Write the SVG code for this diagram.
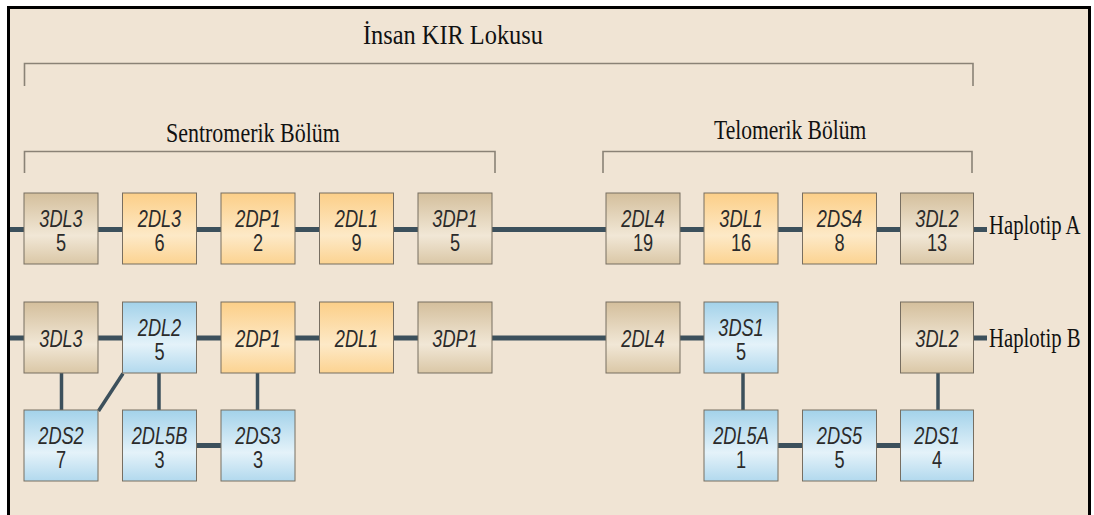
<svg xmlns="http://www.w3.org/2000/svg" width="1094" height="515" viewBox="0 0 1094 515">
  <defs>
    <linearGradient id="gTan" x1="0" y1="0" x2="0" y2="1">
      <stop offset="0" stop-color="#d4bf9c"/>
      <stop offset="0.6" stop-color="#f1e7d6"/>
      <stop offset="1" stop-color="#dac7a6"/>
    </linearGradient>
    <linearGradient id="gOrange" x1="0" y1="0" x2="0" y2="1">
      <stop offset="0" stop-color="#fccf88"/>
      <stop offset="0.6" stop-color="#fde9c7"/>
      <stop offset="1" stop-color="#fcd391"/>
    </linearGradient>
    <linearGradient id="gBlue" x1="0" y1="0" x2="0" y2="1">
      <stop offset="0" stop-color="#a3d2ea"/>
      <stop offset="0.6" stop-color="#e4f2f9"/>
      <stop offset="1" stop-color="#b2d9ee"/>
    </linearGradient>
    <style>
      .box { stroke: #776e61; stroke-width: 1; }
      .tan { fill: url(#gTan); }
      .orange { fill: url(#gOrange); }
      .blue { fill: url(#gBlue); }
      .lbl { font-family: "Liberation Sans", Arial, sans-serif; font-style: italic; font-size: 23px; fill: #2b2b2b; text-anchor: middle; }
      .num { font-family: "Liberation Sans", Arial, sans-serif; font-size: 23px; fill: #2b2b2b; text-anchor: middle; }
      .serif { font-family: "Liberation Serif", "Times New Roman", serif; font-size: 28px; fill: #111; }
      .bracket { fill: none; stroke: #8a8276; stroke-width: 1.6; }
      .row { stroke: #3c505c; stroke-width: 5; fill: none; }
      .link { stroke: #3c505c; stroke-width: 3.5; fill: none; }
    </style>
  </defs>

  <!-- page background and frame -->
  <rect x="0" y="0" width="1094" height="515" fill="#ffffff"/>
  <rect x="8.5" y="7.5" width="1081" height="510" fill="#f0e4d4"/>
  <path d="M8.5,515 V7.5 H1089.5 V515" fill="none" stroke="#000" stroke-width="3"/>

  <!-- headings and brackets (serif text is set narrow) -->
  <g id="headings">
    <text class="serif" transform="translate(363,44) scale(0.87,1)">İnsan KIR Lokusu</text>
    <text class="serif" transform="translate(166,142) scale(0.785,1)">Sentromerik Bölüm</text>
    <text class="serif" transform="translate(714,139) scale(0.77,1)">Telomerik Bölüm</text>
    <path class="bracket" d="M24.5,86 V63.5 H973 V86"/>
    <path class="bracket" d="M24.5,173 V151.5 H495 V173"/>
    <path class="bracket" d="M603,173 V151.5 H972 V173"/>
    <text class="serif" transform="translate(989,234) scale(0.74,1)">Haplotip A</text>
    <text class="serif" transform="translate(989,347) scale(0.74,1)">Haplotip B</text>
  </g>

  <!-- connectors -->
  <g id="connectors">
    <line class="row" x1="10" y1="229.5" x2="987" y2="229.5"/>
    <line class="row" x1="10" y1="338" x2="777" y2="338"/>
    <line class="row" x1="973" y1="338" x2="987" y2="338"/>
    <line class="row" x1="197" y1="445.5" x2="221" y2="445.5"/>
    <line class="row" x1="777" y1="445.5" x2="901" y2="445.5"/>
    <line class="link" x1="61.5" y1="373" x2="61.5" y2="410"/>
    <line class="link" x1="159" y1="373" x2="159" y2="410"/>
    <line class="link" x1="257.5" y1="373" x2="257.5" y2="410"/>
    <line class="link" x1="123" y1="373.5" x2="98.5" y2="411"/>
    <line class="link" x1="743" y1="373" x2="743" y2="410"/>
    <line class="link" x1="938" y1="373" x2="938" y2="410"/>
  </g>

  <!-- haplotype A -->
  <g id="a-3DL3" transform="translate(24,193)">
    <rect class="box tan" width="74" height="71"/>
    <text class="lbl" transform="translate(37,34) scale(0.79,1)">3DL3</text>
    <text class="num" transform="translate(37,58) scale(0.79,1)">5</text>
  </g>
  <g id="a-2DL3" transform="translate(122.5,193)">
    <rect class="box orange" width="74" height="71"/>
    <text class="lbl" transform="translate(37,34) scale(0.79,1)">2DL3</text>
    <text class="num" transform="translate(37,58) scale(0.79,1)">6</text>
  </g>
  <g id="a-2DP1" transform="translate(221,193)">
    <rect class="box orange" width="74" height="71"/>
    <text class="lbl" transform="translate(37,34) scale(0.79,1)">2DP1</text>
    <text class="num" transform="translate(37,58) scale(0.79,1)">2</text>
  </g>
  <g id="a-2DL1" transform="translate(319.5,193)">
    <rect class="box orange" width="74" height="71"/>
    <text class="lbl" transform="translate(37,34) scale(0.79,1)">2DL1</text>
    <text class="num" transform="translate(37,58) scale(0.79,1)">9</text>
  </g>
  <g id="a-3DP1" transform="translate(418,193)">
    <rect class="box tan" width="74" height="71"/>
    <text class="lbl" transform="translate(37,34) scale(0.79,1)">3DP1</text>
    <text class="num" transform="translate(37,58) scale(0.79,1)">5</text>
  </g>
  <g id="a-2DL4" transform="translate(606,193)">
    <rect class="box tan" width="74" height="71"/>
    <text class="lbl" transform="translate(37,34) scale(0.79,1)">2DL4</text>
    <text class="num" transform="translate(37,58) scale(0.79,1)">19</text>
  </g>
  <g id="a-3DL1" transform="translate(704,193)">
    <rect class="box orange" width="74" height="71"/>
    <text class="lbl" transform="translate(37,34) scale(0.79,1)">3DL1</text>
    <text class="num" transform="translate(37,58) scale(0.79,1)">16</text>
  </g>
  <g id="a-2DS4" transform="translate(802.5,193)">
    <rect class="box orange" width="74" height="71"/>
    <text class="lbl" transform="translate(37,34) scale(0.79,1)">2DS4</text>
    <text class="num" transform="translate(37,58) scale(0.79,1)">8</text>
  </g>
  <g id="a-3DL2" transform="translate(900.5,193)">
    <rect class="box tan" width="73" height="71"/>
    <text class="lbl" transform="translate(36.5,34) scale(0.79,1)">3DL2</text>
    <text class="num" transform="translate(36.5,58) scale(0.79,1)">13</text>
  </g>

  <!-- haplotype B, main row -->
  <g id="b-3DL3" transform="translate(24,302)">
    <rect class="box tan" width="74" height="71"/>
    <text class="lbl" transform="translate(37,45) scale(0.79,1)">3DL3</text>
  </g>
  <g id="b-2DL2" transform="translate(122.5,302)">
    <rect class="box blue" width="74" height="71"/>
    <text class="lbl" transform="translate(37,34) scale(0.79,1)">2DL2</text>
    <text class="num" transform="translate(37,58) scale(0.79,1)">5</text>
  </g>
  <g id="b-2DP1" transform="translate(221,302)">
    <rect class="box orange" width="74" height="71"/>
    <text class="lbl" transform="translate(37,45) scale(0.79,1)">2DP1</text>
  </g>
  <g id="b-2DL1" transform="translate(319.5,302)">
    <rect class="box orange" width="74" height="71"/>
    <text class="lbl" transform="translate(37,45) scale(0.79,1)">2DL1</text>
  </g>
  <g id="b-3DP1" transform="translate(418,302)">
    <rect class="box tan" width="74" height="71"/>
    <text class="lbl" transform="translate(37,45) scale(0.79,1)">3DP1</text>
  </g>
  <g id="b-2DL4" transform="translate(606,302)">
    <rect class="box tan" width="74" height="71"/>
    <text class="lbl" transform="translate(37,45) scale(0.79,1)">2DL4</text>
  </g>
  <g id="b-3DS1" transform="translate(704,302)">
    <rect class="box blue" width="74" height="71"/>
    <text class="lbl" transform="translate(37,34) scale(0.79,1)">3DS1</text>
    <text class="num" transform="translate(37,58) scale(0.79,1)">5</text>
  </g>
  <g id="b-3DL2" transform="translate(900.5,302)">
    <rect class="box tan" width="73" height="71"/>
    <text class="lbl" transform="translate(36.5,45) scale(0.79,1)">3DL2</text>
  </g>

  <!-- haplotype B, variant genes -->
  <g id="b-2DS2" transform="translate(24,410)">
    <rect class="box blue" width="74" height="71"/>
    <text class="lbl" transform="translate(37,34) scale(0.79,1)">2DS2</text>
    <text class="num" transform="translate(37,58) scale(0.79,1)">7</text>
  </g>
  <g id="b-2DL5B" transform="translate(122.5,410)">
    <rect class="box blue" width="74" height="71"/>
    <text class="lbl" transform="translate(37,34) scale(0.79,1)">2DL5B</text>
    <text class="num" transform="translate(37,58) scale(0.79,1)">3</text>
  </g>
  <g id="b-2DS3" transform="translate(221,410)">
    <rect class="box blue" width="74" height="71"/>
    <text class="lbl" transform="translate(37,34) scale(0.79,1)">2DS3</text>
    <text class="num" transform="translate(37,58) scale(0.79,1)">3</text>
  </g>
  <g id="b-2DL5A" transform="translate(704,410)">
    <rect class="box blue" width="74" height="71"/>
    <text class="lbl" transform="translate(37,34) scale(0.79,1)">2DL5A</text>
    <text class="num" transform="translate(37,58) scale(0.79,1)">1</text>
  </g>
  <g id="b-2DS5" transform="translate(802.5,410)">
    <rect class="box blue" width="74" height="71"/>
    <text class="lbl" transform="translate(37,34) scale(0.79,1)">2DS5</text>
    <text class="num" transform="translate(37,58) scale(0.79,1)">5</text>
  </g>
  <g id="b-2DS1" transform="translate(900.5,410)">
    <rect class="box blue" width="73" height="71"/>
    <text class="lbl" transform="translate(36.5,34) scale(0.79,1)">2DS1</text>
    <text class="num" transform="translate(36.5,58) scale(0.79,1)">4</text>
  </g>
</svg>
